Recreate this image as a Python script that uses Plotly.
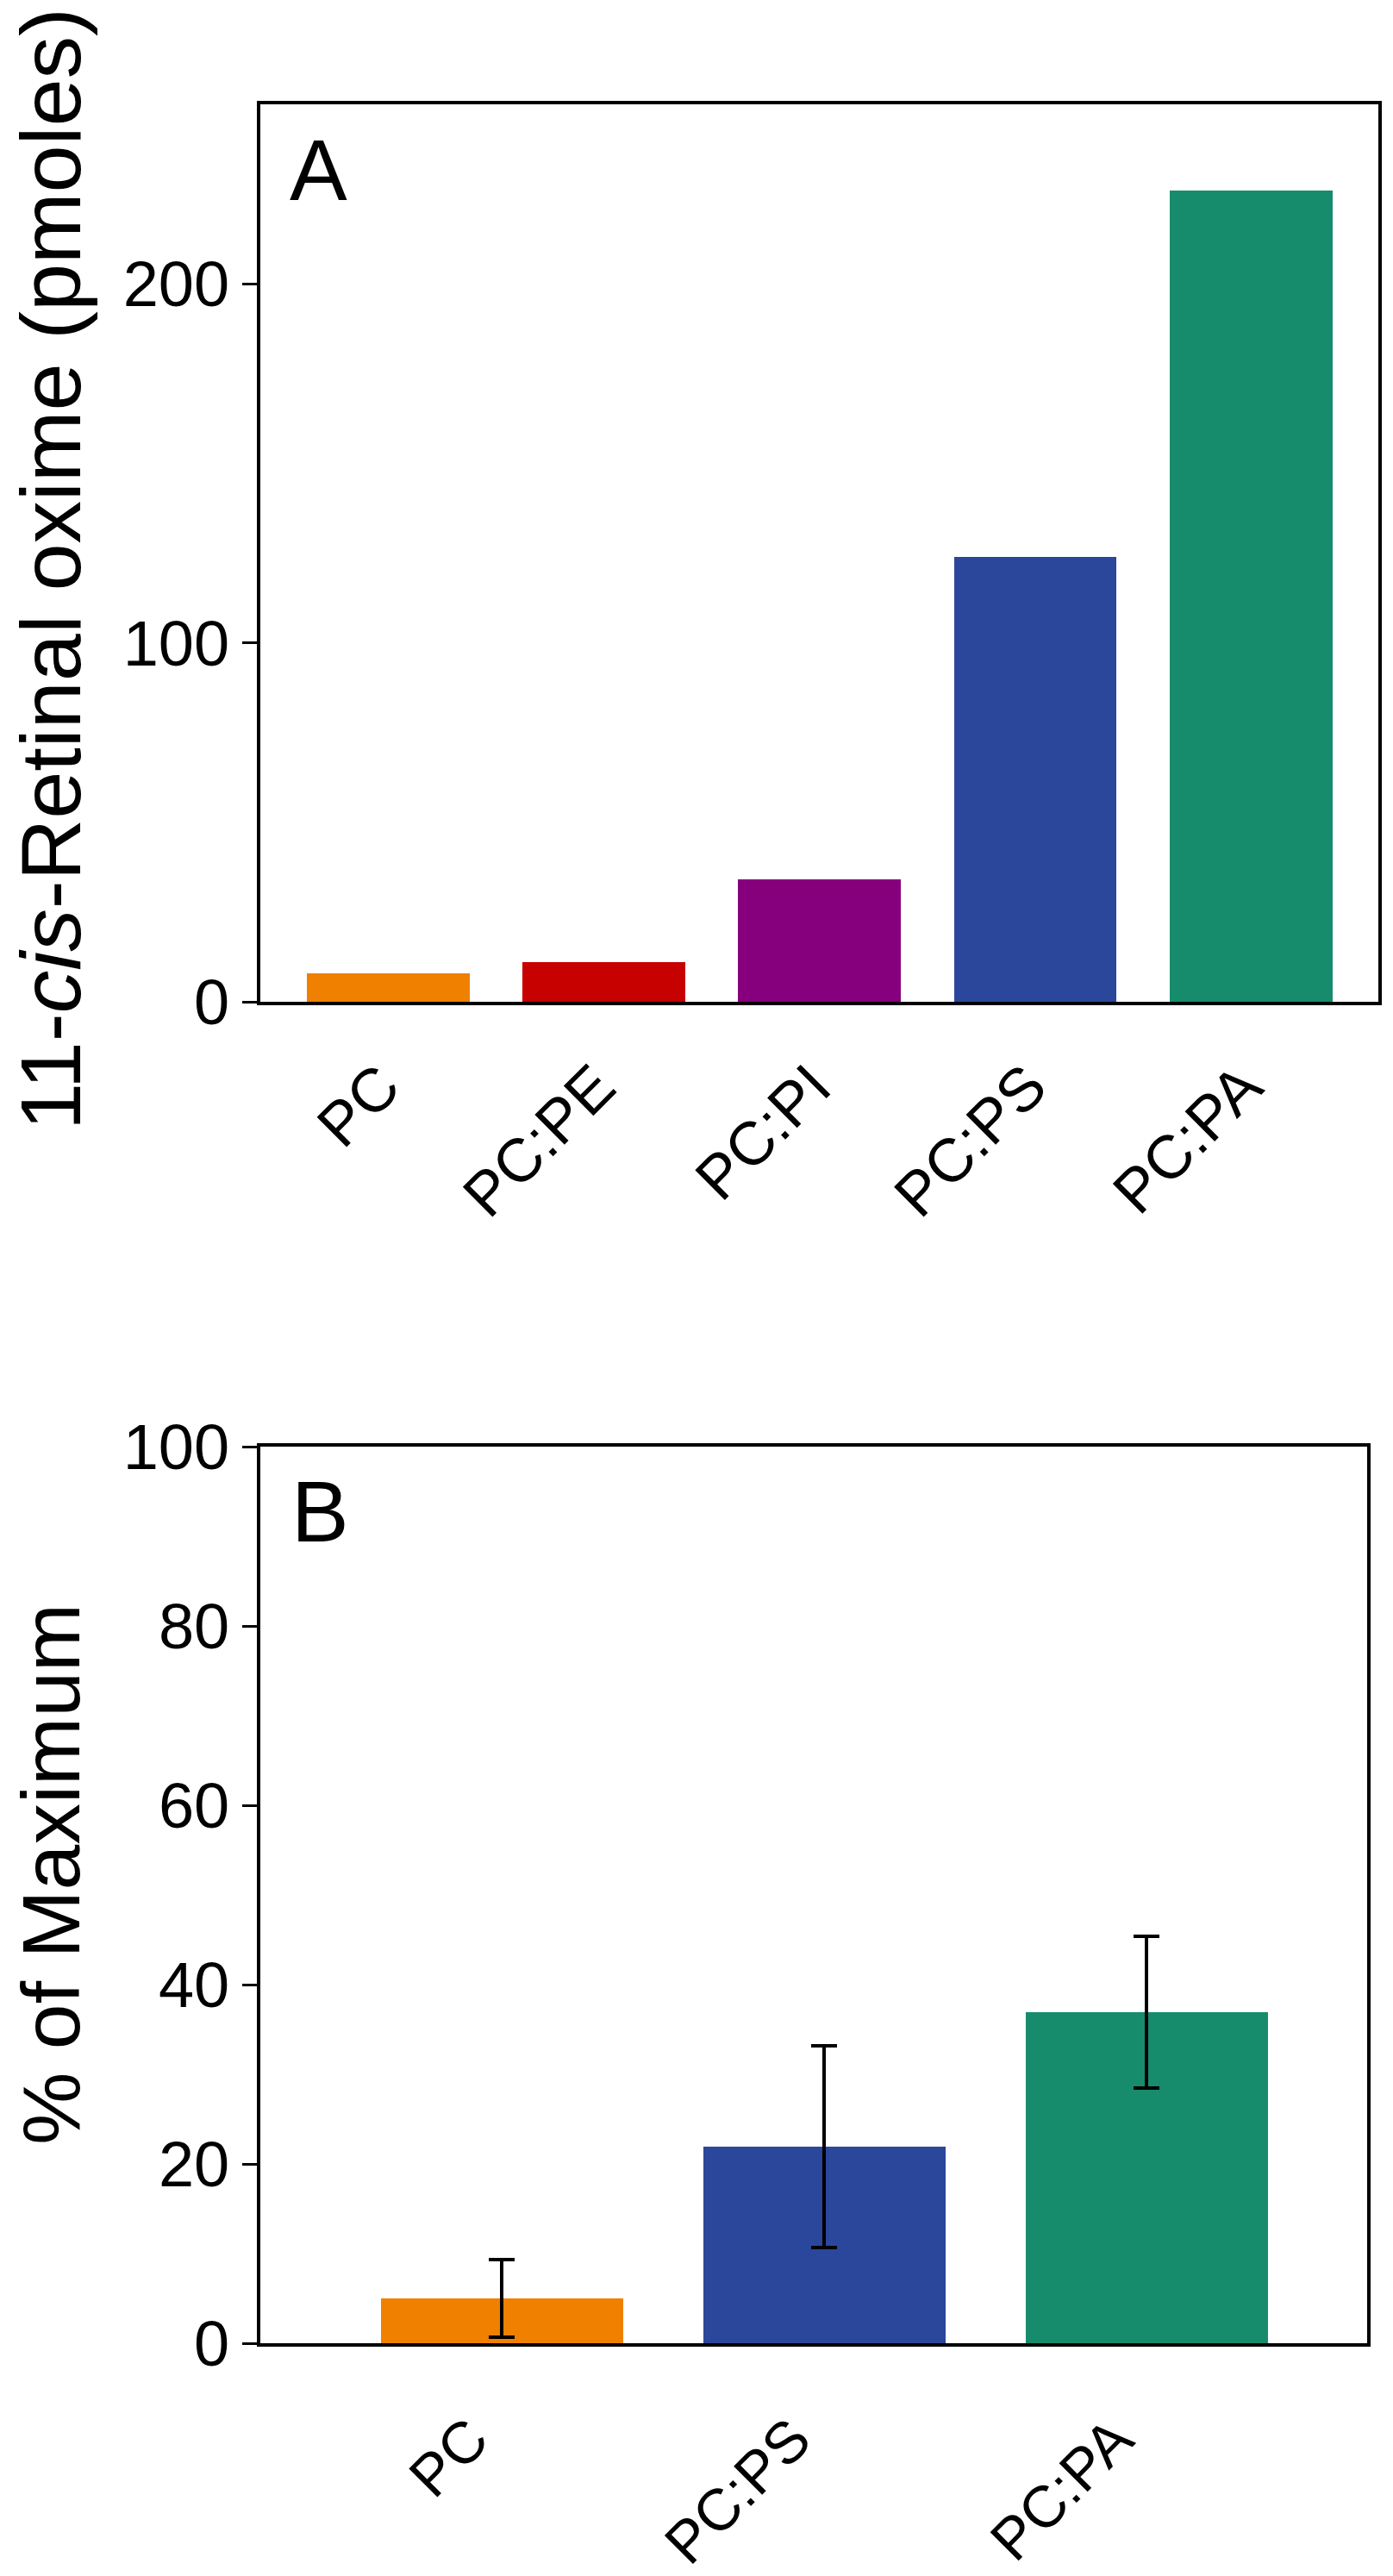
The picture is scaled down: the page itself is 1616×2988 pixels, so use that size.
import plotly.graph_objects as go

# Panel A data
cats_a = ["PC", "PC:PE", "PC:PI", "PC:PS", "PC:PA"]
vals_a = [8, 11, 34, 124, 226]
colors_a = ["#EF8000", "#C70000", "#86007E", "#2A479B", "#168C6D"]

# Panel B data
cats_b = ["PC", "PC:PS", "PC:PA"]
vals_b = [5.0, 21.9, 36.9]
errs_b = [4.35, 11.25, 8.45]
colors_b = ["#EF8000", "#2A479B", "#168C6D"]

ticks_a = [0, 100, 200]
ticks_b = [0, 20, 40, 60, 80, 100]

title_a = "11-<i>cis</i>-Retinal oxime (pmoles)"
title_b = "% of Maximum"

W, H = 1616, 2988
FONT = "Liberation Sans, Arial, Helvetica, sans-serif"

def px_x(p):
    return p / W

def px_y(p):
    return 1 - p / H

fig = go.Figure()
fig.add_trace(go.Bar(x=list(range(len(cats_a))), y=vals_a, marker=dict(color=colors_a, line=dict(width=0)),
                     width=0.755, xaxis="x", yaxis="y", showlegend=False))
fig.add_trace(go.Bar(x=list(range(len(cats_b))), y=vals_b, marker=dict(color=colors_b, line=dict(width=0)),
                     width=0.751, xaxis="x2", yaxis="y2", showlegend=False,
                     error_y=dict(type="data", array=errs_b, visible=True, color="black", thickness=4, width=15)))

axis_common = dict(showline=True, linecolor="black", linewidth=4, mirror=True, showgrid=False,
                   zeroline=False, automargin=False)

fig.update_layout(
    width=W, height=H,
    margin=dict(l=0, r=0, t=0, b=0),
    paper_bgcolor="white", plot_bgcolor="white",
    font=dict(family=FONT, color="black"),
    bargap=0,
    xaxis=dict(domain=[px_x(302), px_x(1598.7)], anchor="y", range=[-0.594, 4.59],
               tickmode="array", tickvals=list(range(len(cats_a))), ticktext=cats_a,
               tickangle=-45, tickfont=dict(size=71, family=FONT), ticks="",
               ticklabelstandoff=24, ticklabelshift=-8,
               **axis_common),
    yaxis=dict(domain=[px_y(1162), px_y(121)], anchor="x", range=[0, 250],
               tickmode="array", tickvals=ticks_a, ticks="outside", ticklen=17, tickwidth=3, tickcolor="black",
               tickfont=dict(size=74, family=FONT),
               **axis_common),
    xaxis2=dict(domain=[px_x(302), px_x(1585.5)], anchor="y2", range=[-0.749, 2.682],
                tickmode="array", tickvals=list(range(len(cats_b))), ticktext=cats_b,
                tickangle=-45, tickfont=dict(size=68, family=FONT), ticks="",
                ticklabelstandoff=40, ticklabelshift=-36,
                **axis_common),
    yaxis2=dict(domain=[px_y(2718), px_y(1678)], anchor="x2", range=[0, 100],
                tickmode="array", tickvals=ticks_b, ticks="outside", ticklen=17, tickwidth=3, tickcolor="black",
                tickfont=dict(size=74, family=FONT),
                **axis_common),
    annotations=[
        dict(text=title_a, x=px_x(59), y=px_y(660), xref="paper", yref="paper", xanchor="center",
             yanchor="middle", textangle=-90, showarrow=False, font=dict(size=99, family=FONT)),
        dict(text=title_b, x=px_x(59), y=px_y(2174), xref="paper", yref="paper", xanchor="center",
             yanchor="middle", textangle=-90, showarrow=False, font=dict(size=95, family=FONT)),
        dict(text="A", x=px_x(334), y=px_y(197), xref="paper", yref="paper", xanchor="left", yanchor="middle",
             showarrow=False, font=dict(size=100, family=FONT)),
        dict(text="B", x=px_x(336), y=px_y(1753), xref="paper", yref="paper", xanchor="left", yanchor="middle",
             showarrow=False, font=dict(size=100, family=FONT)),
    ],
)

fig.write_html("out.html", config={"displayModeBar": False},
               post_script="document.body.style.margin='0px';")
